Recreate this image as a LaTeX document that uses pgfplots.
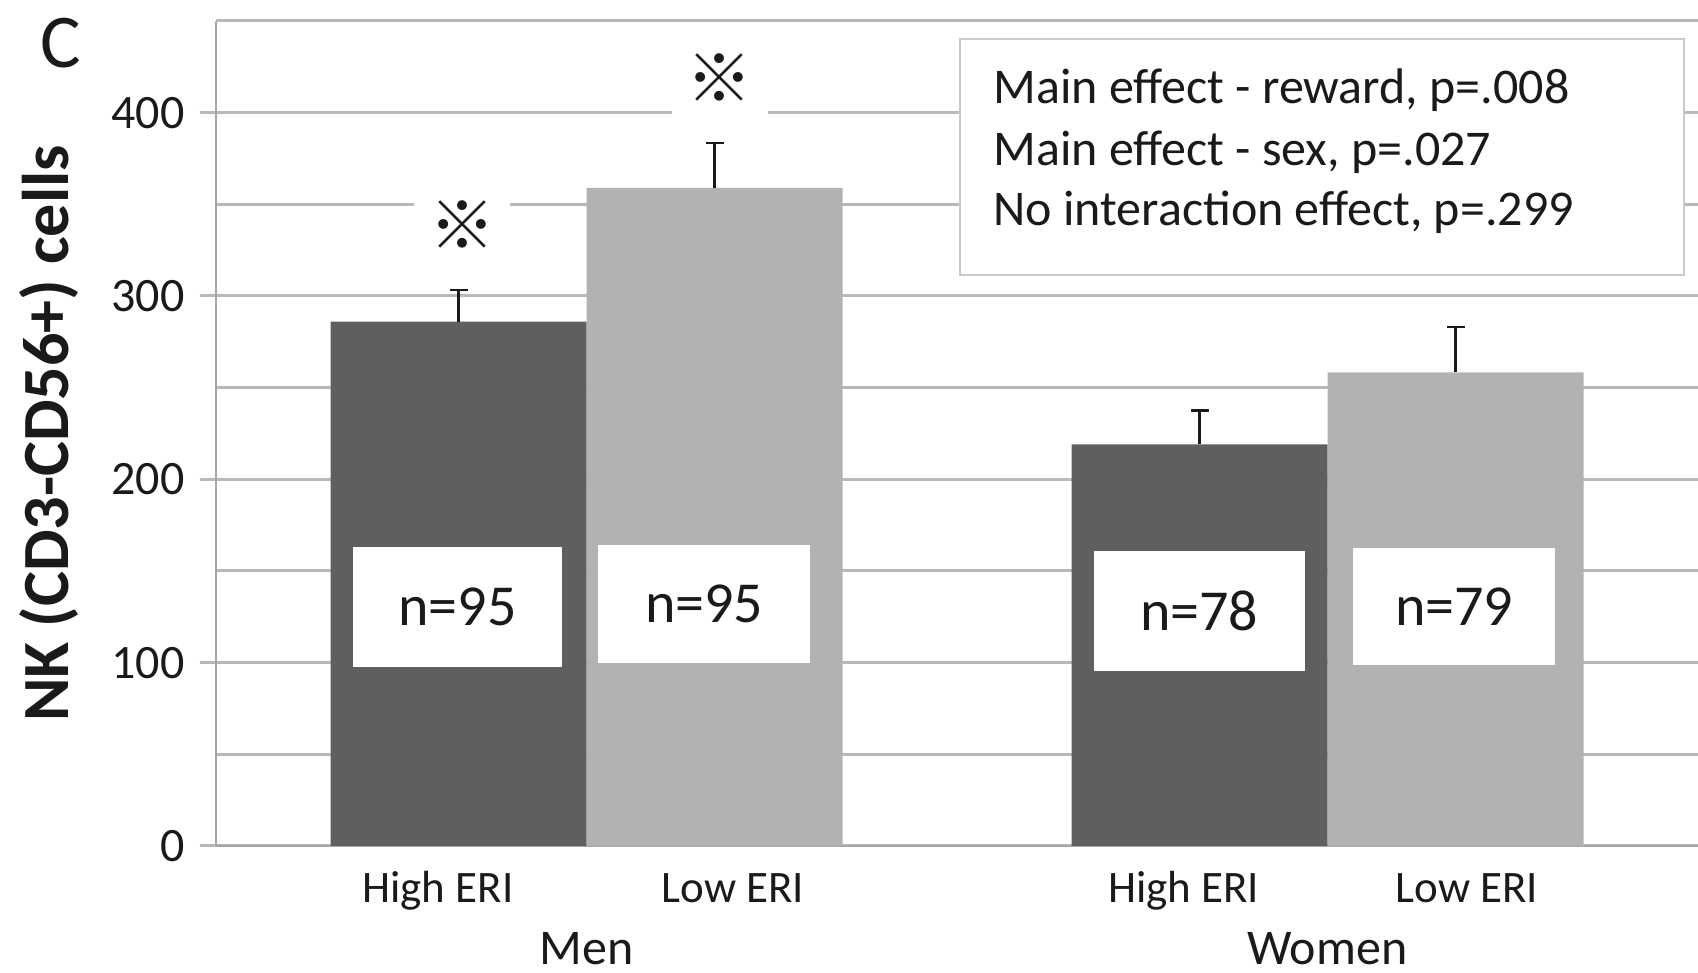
\documentclass[border=0pt]{standalone}
\usepackage{pgfplots}
\pgfplotsset{compat=1.18}
\usepackage{fontspec}
\setmainfont{Carlito}
\newfontfamily\cjk{Noto Sans CJK JP}
\definecolor{darkbar}{HTML}{5F5F5F}
\definecolor{lightbar}{HTML}{B2B2B2}
\definecolor{gridc}{HTML}{B9B9B9}
\definecolor{axc}{HTML}{A6A6A6}
\definecolor{boxc}{HTML}{CACACA}
\definecolor{txt}{HTML}{1A1A1A}
\begin{document}
\begin{tikzpicture}
\useasboundingbox (0,0) rectangle (849pt,486.5pt);
\begin{axis}[
  at={(108pt,63.5pt)}, anchor=south west,
  scale only axis, width=741pt, height=412.5pt,
  xmin=0.5, xmax=2.5, ymin=0, ymax=450,
  ybar=0pt, bar width=128pt,
  axis x line*=bottom, axis y line*=left,
  axis line style={axc, line width=1pt},
  xtick=\empty,
  ytick={0,100,200,300,400},
  minor ytick={50,150,250,350,450},
  ymajorgrids, yminorgrids,
  major grid style={gridc, line width=1.5pt},
  minor grid style={gridc, line width=1.5pt},
  tick align=outside, major tick length=8pt, minor tick length=0pt,
  ytick style={gridc, line width=1.5pt},
  yticklabel style={font=\fontsize{24}{24}\selectfont, text=txt, inner sep=0pt, xshift=-7.5pt},
  /pgf/number format/assume math mode=true,
  clip=false,
  ylabel={NK (CD3-CD56+) cells},
  ylabel style={at={(axis description cs:-0.1127,0.5)}, anchor=center, font=\bfseries\fontsize{33}{33}\selectfont, text=txt},
]
\addplot[fill=darkbar, draw=none,
  error bars/.cd, y dir=plus, y explicit,
  error bar style={color=txt, line width=1.1pt},
  error mark options={rotate=90, color=txt, line width=1.1pt, mark size=4.5pt}]
  coordinates {(1,286) +- (0,17.3) (2,219) +- (0,18.5)};
\addplot[fill=lightbar, draw=none,
  error bars/.cd, y dir=plus, y explicit,
  error bar style={color=txt, line width=1.1pt},
  error mark options={rotate=90, color=txt, line width=1.1pt, mark size=4.5pt}]
  coordinates {(1,359) +- (0,24.6) (2,258.4) +- (0,24.6)};

% n= boxes
\node[fill=white, inner sep=0pt, minimum width=104.5pt, minimum height=60pt, font=\fontsize{29}{29}\selectfont, text=txt] at (axis cs:0.826,130.4) {n=95};
\node[fill=white, inner sep=0pt, minimum width=106pt, minimum height=59pt, font=\fontsize{29}{29}\selectfont, text=txt] at (axis cs:1.159,132) {n=95};
\node[fill=white, inner sep=0pt, minimum width=105.5pt, minimum height=60pt, font=\fontsize{29}{29}\selectfont, text=txt] at (axis cs:1.827,128) {n=78};
\node[fill=white, inner sep=0pt, minimum width=101pt, minimum height=58.5pt, font=\fontsize{29}{29}\selectfont, text=txt] at (axis cs:2.171,130.7) {n=79};

% significance marks
\node[fill=white, inner sep=0pt, minimum width=48pt, minimum height=45pt, font=\cjk\fontsize{33}{33}\selectfont, text=txt] at (axis cs:0.832,338.8) {※};
\node[fill=white, inner sep=0pt, minimum width=48pt, minimum height=45pt, font=\cjk\fontsize{33}{33}\selectfont, text=txt] at (axis cs:1.180,419) {※};

% statistics box
\draw[boxc, line width=1pt, fill=white] (axis cs:1.504,440.3) rectangle (axis cs:2.481,311.5);
\node[anchor=base west, inner sep=0pt, font=\fontsize{25}{25}\selectfont, text=txt] at (axis cs:1.5486,404.8) {Main effect - reward, p=.008};
\node[anchor=base west, inner sep=0pt, font=\fontsize{25}{25}\selectfont, text=txt] at (axis cs:1.5486,371) {Main effect - sex, p=.027};
\node[anchor=base west, inner sep=0pt, font=\fontsize{25}{25}\selectfont, text=txt] at (axis cs:1.5486,338.2) {No interaction effect, p=.299};

% category labels
\node[anchor=base, inner sep=0pt, font=\fontsize{22.5}{22.5}\selectfont, text=txt] at (axis cs:0.7996,-30.55) {High ERI};
\node[anchor=base, inner sep=0pt, font=\fontsize{22.5}{22.5}\selectfont, text=txt] at (axis cs:1.1977,-30.55) {Low ERI};
\node[anchor=base, inner sep=0pt, font=\fontsize{22.5}{22.5}\selectfont, text=txt] at (axis cs:1.806,-30.55) {High ERI};
\node[anchor=base, inner sep=0pt, font=\fontsize{22.5}{22.5}\selectfont, text=txt] at (axis cs:2.188,-30.55) {Low ERI};
\node[anchor=base, inner sep=0pt, font=\fontsize{25}{25}\selectfont, text=txt] at (axis cs:1,-64.8) {Men};
\node[anchor=base, inner sep=0pt, font=\fontsize{25}{25}\selectfont, text=txt] at (axis cs:2,-64.8) {Women};

\node[font=\fontsize{38}{38}\selectfont, text=txt, inner sep=0pt] at (axis description cs:-0.10493,0.97273) {C};
\end{axis}
\end{tikzpicture}
\end{document}
